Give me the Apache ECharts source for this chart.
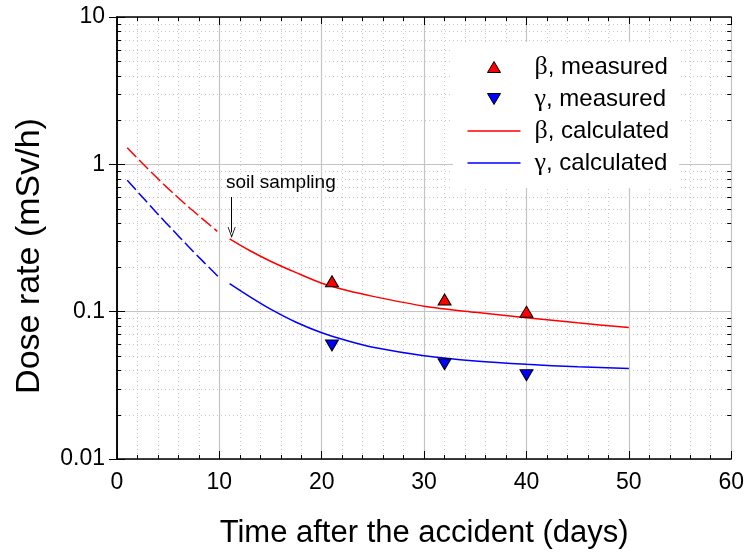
<!DOCTYPE html>
<html>
<head>
<meta charset="utf-8">
<script src="https://cdn.jsdelivr.net/npm/echarts@6/dist/echarts.min.js"></script>
<style>
html,body{margin:0;padding:0;background:#fff;}
#chart{width:747px;height:554px;}
</style>
</head>
<body>
<div id="chart"></div>
<script>
// ---- data ----
const measuredDays = [21, 32, 40];
const betaMeasured = [0.161, 0.121, 0.100];
const gammaMeasured = [0.059, 0.044, 0.037];

const betaDashDays = [1, 2.5, 4, 5.5, 7, 8.5, 9.8];
const betaDash = [1.298, 1.012, 0.798, 0.636, 0.513, 0.418, 0.351];
const gammaDashDays = [1, 2.5, 4, 5.5, 7, 8.5, 10];
const gammaDash = [0.781, 0.597, 0.459, 0.355, 0.276, 0.216, 0.170];

const calcDays = [11, 13, 15, 17.5, 20, 22.5, 25, 30, 35, 40, 45, 50];
const betaCalc = [0.312, 0.259, 0.220, 0.184, 0.156, 0.139, 0.127, 0.109, 0.099, 0.091, 0.084, 0.078];
const gammaCalc = [0.155, 0.126, 0.104, 0.0847, 0.0719, 0.0635, 0.0574, 0.0503, 0.0463, 0.0439, 0.0423, 0.0412];

const yMinorValues = [0.02,0.03,0.04,0.05,0.06,0.07,0.08,0.09,
                      0.2,0.3,0.4,0.5,0.6,0.7,0.8,0.9,
                      2,3,4,5,6,7,8,9];

const soilSamplingDay = 11.2;
const arrowFrom = 0.6, arrowTo = 0.345;
const noteDay = 16, noteValue = 0.75;

const xTitle = 'Time after the accident (days)';
const yTitle = 'Dose rate (mSv/h)';
const legendNames = ['β, measured', 'γ, measured', 'β, calculated', 'γ, calculated'];

const zip = (xs, ys) => xs.map((x, i) => [x, ys[i]]);

const FONT = 'Liberation Sans, Arial, sans-serif';
const GRID_MAJOR = '#c4c4c4';
const GRID_MINOR = '#c8c8c8';
const RED = '#ff0000', BLUE = '#0000ff';

// legend icon paths (degenerate corner points keep the box 53x13)
const BOX = 'M0,0 L0,0 Z M53,13 L53,13 Z ';
const ICON_UP = 'path://' + BOX + 'M20,12 L33,12 L26.5,1 Z';
const ICON_DOWN = 'path://' + BOX + 'M20,1 L33,1 L26.5,12 Z';
const ICON_LINE = 'path://' + BOX + 'M0,5.75 L53,5.75 L53,7.25 L0,7.25 Z';

const chart = echarts.init(document.getElementById('chart'), null, {renderer: 'canvas'});

const option = {
  backgroundColor: '#fff',
  animation: false,
  textStyle: {fontFamily: FONT},
  grid: {left: 117, right: 14, top: 17, bottom: 92, containLabel: false},
  xAxis: [
    {
      type: 'value', position: 'bottom', min: 0, max: 60, interval: 10,
      name: xTitle, nameLocation: 'middle', nameGap: 59,
      nameTextStyle: {fontSize: 31, color: '#000', fontFamily: FONT},
      axisLine: {show: true, lineStyle: {color: '#000', width: 1.5}},
      axisTick: {show: true, inside: true, length: 8, lineStyle: {color: '#000', width: 1}},
      minorTick: {show: true, splitNumber: 5, length: 4, lineStyle: {color: '#000', width: 1}},
      axisLabel: {fontSize: 23, color: '#000', margin: 12, fontFamily: FONT},
      splitLine: {show: true, lineStyle: {color: GRID_MAJOR, width: 1.2}},
      minorSplitLine: {show: true, lineStyle: {color: GRID_MINOR, width: 1, type: [1, 3]}}
    },
    {
      type: 'value', position: 'top', min: 0, max: 60, interval: 10,
      axisLine: {show: true, lineStyle: {color: '#000', width: 1.5}},
      axisTick: {show: true, inside: true, length: 8, lineStyle: {color: '#000', width: 1}},
      minorTick: {show: true, splitNumber: 5, length: 4, lineStyle: {color: '#000', width: 1}},
      axisLabel: {show: false},
      splitLine: {show: false}
    }
  ],
  yAxis: [
    {
      type: 'log', logBase: 10, position: 'left', min: 0.01, max: 10,
      name: yTitle, nameLocation: 'middle', nameGap: 70, nameRotate: 90,
      nameTextStyle: {fontSize: 34, color: '#000', fontFamily: FONT, padding: [0, 36, 0, 0]},
      axisLine: {show: true, lineStyle: {color: '#000', width: 1.5}},
      axisTick: {show: true, inside: true, length: 8, lineStyle: {color: '#000', width: 1}},
      axisLabel: {fontSize: 23, color: '#000', margin: 12, fontFamily: FONT},
      splitLine: {show: true, lineStyle: {color: GRID_MAJOR, width: 1.2}}
    },
    {
      type: 'log', logBase: 10, position: 'right', min: 0.01, max: 10,
      axisLine: {show: true, lineStyle: {color: '#000', width: 1.5}},
      axisTick: {show: true, inside: true, length: 8, lineStyle: {color: '#000', width: 1}},
      axisLabel: {show: false},
      splitLine: {show: false}
    }
  ],
  legend: {
    orient: 'vertical', left: 453, top: 42,
    padding: [12, 10, 12, 14],
    backgroundColor: '#fff',
    itemWidth: 53, itemHeight: 13, itemGap: 6, itemTextGap: 15,
    symbolKeepAspect: true,
    textStyle: {fontSize: 24, color: '#000', fontFamily: FONT, lineHeight: 26,
      padding: [0, 0, 0, 9],
      rich: {g: {fontFamily: 'Liberation Serif, serif', fontSize: 26, color: '#000'}}},
    formatter: function (name) {
      return '{g|' + name.charAt(0) + '}' + name.slice(1);
    },
    data: [
      {name: legendNames[0], icon: ICON_UP, itemStyle: {color: RED, borderColor: '#000', borderWidth: 1}},
      {name: legendNames[1], icon: ICON_DOWN, itemStyle: {color: BLUE, borderColor: '#000', borderWidth: 1}},
      {name: legendNames[2], icon: ICON_LINE, itemStyle: {color: RED, borderWidth: 0}},
      {name: legendNames[3], icon: ICON_LINE, itemStyle: {color: BLUE, borderWidth: 0}}
    ]
  },
  series: [
    {
      // minor log grid lines and minor ticks on left/right frames
      type: 'custom', name: 'minor', silent: true, z: 1,
      data: yMinorValues.map(v => [0, v]),
      encode: {x: 0, y: 1},
      clip: false,
      renderItem: function (params, api) {
        const p = api.coord([0, api.value(1)]);
        const cs = params.coordSys;
        const y = Math.round(p[1]) + 0.5;
        return {
          type: 'group',
          children: [
            {type: 'line', shape: {x1: cs.x, y1: y, x2: cs.x + cs.width, y2: y},
             style: {stroke: GRID_MINOR, lineWidth: 1, lineDash: [1, 3]}},
            {type: 'line', shape: {x1: cs.x, y1: y, x2: cs.x + 4, y2: y},
             style: {stroke: '#000', lineWidth: 1}},
            {type: 'line', shape: {x1: cs.x + cs.width - 4, y1: y, x2: cs.x + cs.width, y2: y},
             style: {stroke: '#000', lineWidth: 1}}
          ]
        };
      }
    },
    {
      name: 'β dashed', type: 'line', data: zip(betaDashDays, betaDash),
      smooth: 0.3, symbol: 'none', z: 3,
      lineStyle: {color: RED, width: 1.5, type: [13, 4]}
    },
    {
      name: 'γ dashed', type: 'line', data: zip(gammaDashDays, gammaDash),
      smooth: 0.3, symbol: 'none', z: 3,
      lineStyle: {color: BLUE, width: 1.5, type: [13, 4]}
    },
    {
      name: legendNames[2], type: 'line', data: zip(calcDays, betaCalc),
      smooth: 0.3, symbol: 'none', z: 3,
      color: RED,
      lineStyle: {color: RED, width: 1.5},
      markLine: {
        silent: true, symbol: ['none', 'path://M5,0 L10,11 L9,11 L5,2.5 L1,11 L0,11 Z'],
        symbolSize: [8, 11],
        lineStyle: {color: '#000', width: 1, type: 'solid'},
        label: {show: false},
        data: [[{coord: [soilSamplingDay, arrowFrom]}, {coord: [soilSamplingDay, arrowTo]}]]
      },
      markPoint: {
        silent: true, symbol: 'circle', symbolSize: 0,
        label: {show: true, position: 'inside', formatter: 'soil sampling', fontSize: 19, color: '#000', fontFamily: FONT},
        data: [{coord: [noteDay, noteValue]}]
      }
    },
    {
      name: legendNames[3], type: 'line', data: zip(calcDays, gammaCalc),
      smooth: 0.3, symbol: 'none', z: 3,
      color: BLUE,
      lineStyle: {color: BLUE, width: 1.5}
    },
    {
      name: legendNames[0], type: 'scatter', data: zip(measuredDays, betaMeasured),
      symbol: 'triangle', symbolSize: [13, 11], z: 5,
      itemStyle: {color: RED, borderColor: '#000', borderWidth: 1, opacity: 1}
    },
    {
      name: legendNames[1], type: 'scatter', data: zip(measuredDays, gammaMeasured),
      symbol: 'triangle', symbolSize: [13, 11], symbolRotate: 180, z: 5,
      itemStyle: {color: BLUE, borderColor: '#000', borderWidth: 1, opacity: 1}
    }
  ]
};
chart.setOption(option);
</script>
</body>
</html>
